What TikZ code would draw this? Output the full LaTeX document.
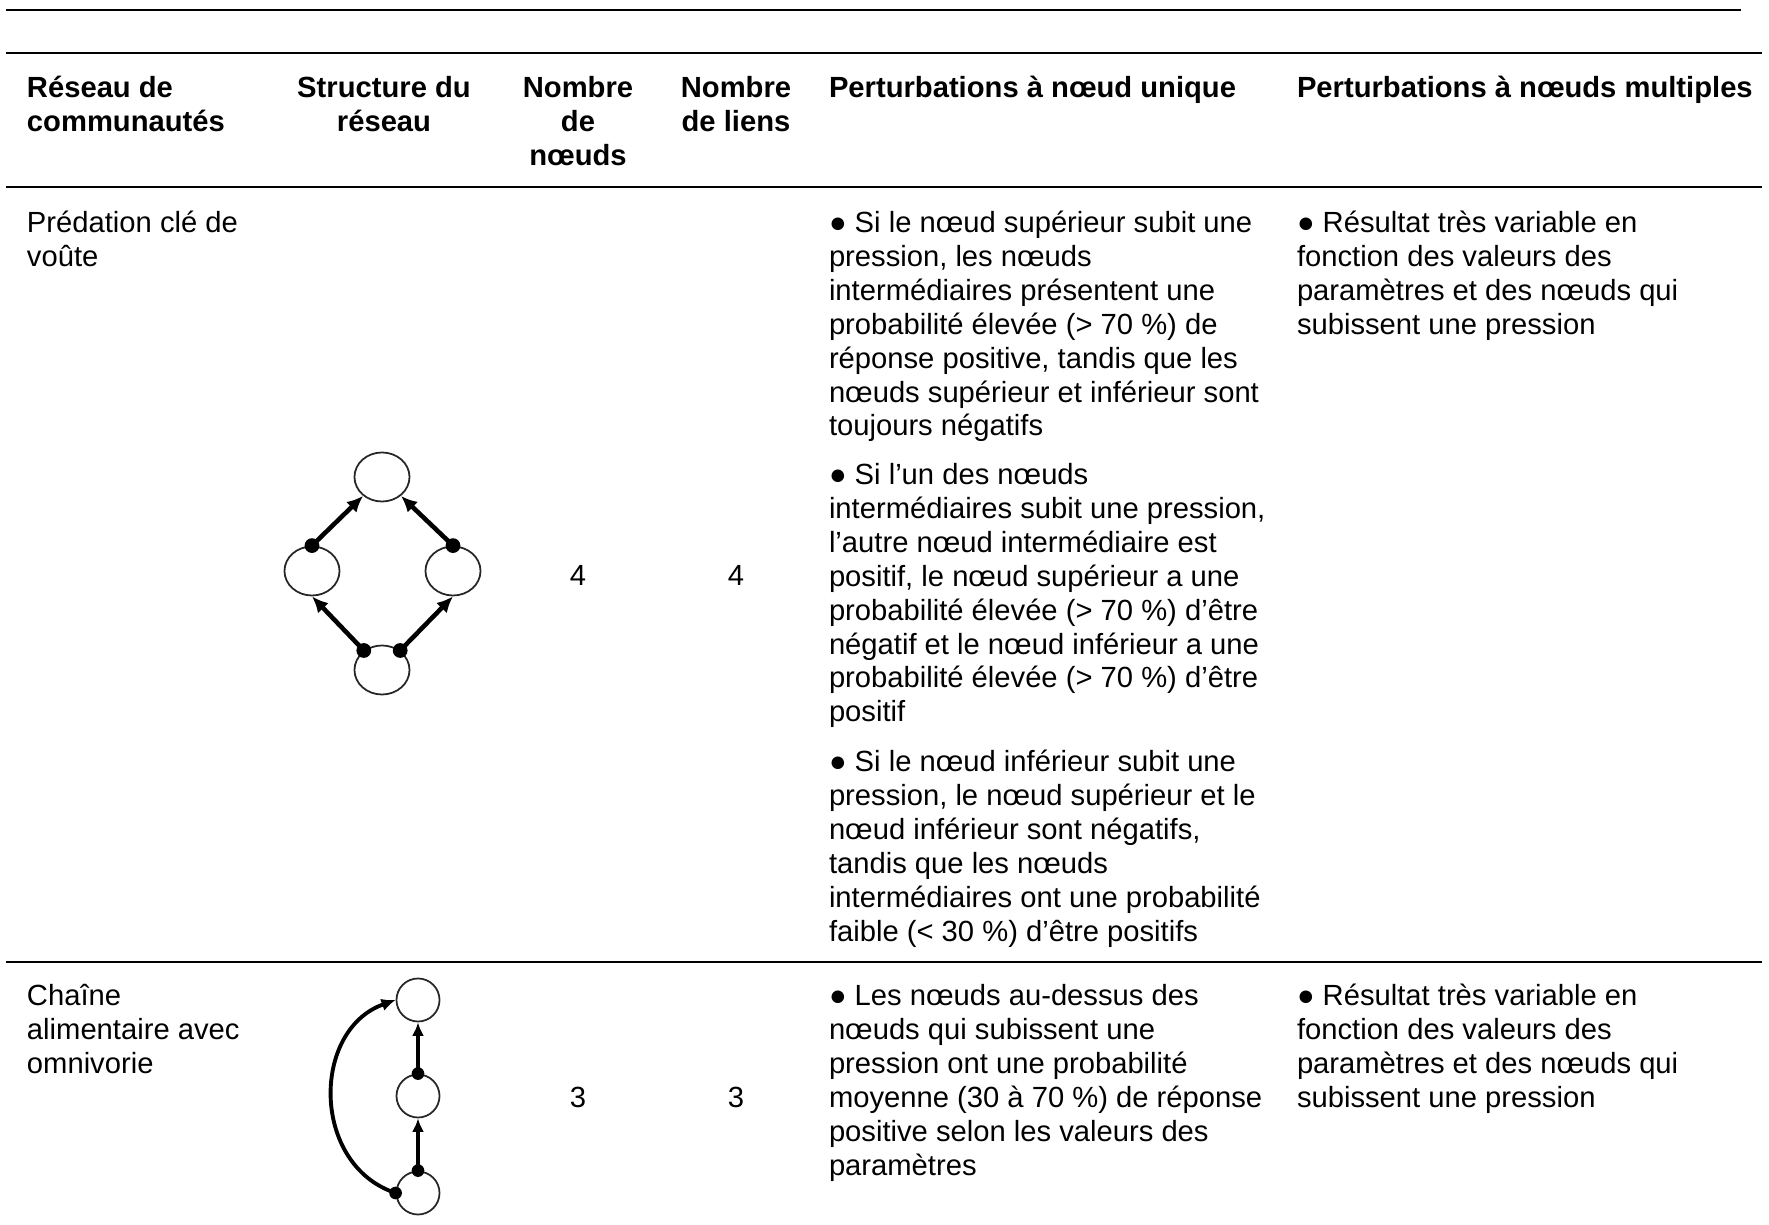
\documentclass[tikz,border=0pt]{standalone}
\usepackage{fontspec}
\setmainfont{Liberation Sans}
\usetikzlibrary{shapes.geometric,arrows.meta}
\newcommand{\cellL}[1]{\parbox[t]{7cm}{\raggedright #1}}
\newcommand{\cellC}[1]{\parbox[t]{3cm}{\centering #1}}
\begin{document}
\begin{tikzpicture}[x=0.01cm,y=-0.01cm,
  txt/.style={inner sep=0pt, outer sep=0pt, anchor=base west, font=\fontsize{8.3pt}{9.62pt}\selectfont},
  hd/.style={txt, font=\fontsize{8.3pt}{9.62pt}\selectfont\bfseries},
  hdc/.style={hd, anchor=base},
  num/.style={txt, anchor=base},
  rule/.style={line width=0.7pt},
  nd/.style={ellipse, draw=black!85, line width=0.5pt, inner sep=0pt, minimum width=0.55cm, minimum height=0.49cm},
  cn/.style={circle, draw=black!85, line width=0.5pt, inner sep=0pt, minimum size=0.43cm},
  lk/.style={line width=1.3pt, -{Latex[length=4.6pt,width=4.2pt]}},
  lkt/.style={line width=0.9pt, -{Latex[length=3.8pt,width=3.4pt]}},
  lkc/.style={line width=1.1pt, -{Latex[length=4pt,width=3.6pt]}},
  dotc/.style={fill=black}
]
\useasboundingbox (0,0) rectangle (1769,1225);

% rules
\draw[rule] (6,10) -- (1741,10);
\draw[rule] (6,53) -- (1762,53);
\draw[rule] (6,187) -- (1762,187);
\draw[rule] (6,962) -- (1762,962);

% header
\node[hd] (h1) at (27,98) {\cellL{Réseau de\\communautés}};
\node[hdc] (h2) at (384,98) {\cellC{Structure du\\réseau}};
\node[hdc] (h3) at (578,98) {\cellC{Nombre\\de\\nœuds}};
\node[hdc] (h4) at (736,98) {\cellC{Nombre\\de liens}};
\node[hd] (h5) at (829,98) {\cellL{Perturbations à nœud unique}};
\node[hd] (h6) at (1297,98) {\cellL{Perturbations à nœuds multiples}};

% row 1
\node[txt] (r1c1) at (27,233) {\cellL{Prédation clé de\\voûte}};
\node[num] (r1c3) at (578,586) {4};
\node[num] (r1c4) at (736,586) {4};
\node[txt] (r1p1) at (829,233) {\cellL{● Si le nœud supérieur subit une\\
pression, les nœuds\\
intermédiaires présentent une\\
probabilité élevée (> 70 \%) de\\
réponse positive, tandis que les\\
nœuds supérieur et inférieur sont\\
toujours négatifs}};
\node[txt] (r1p2) at (829,485) {\cellL{● Si l’un des nœuds\\
intermédiaires subit une pression,\\
l’autre nœud intermédiaire est\\
positif, le nœud supérieur a une\\
probabilité élevée (> 70 \%) d’être\\
négatif et le nœud inférieur a une\\
probabilité élevée (> 70 \%) d’être\\
positif}};
\node[txt] (r1p3) at (829,772) {\cellL{● Si le nœud inférieur subit une\\
pression, le nœud supérieur et le\\
nœud inférieur sont négatifs,\\
tandis que les nœuds\\
intermédiaires ont une probabilité\\
faible (< 30 \%) d’être positifs}};
\node[txt] (r1c6) at (1297,233) {\cellL{● Résultat très variable en\\
fonction des valeurs des\\
paramètres et des nœuds qui\\
subissent une pression}};

% row 2
\node[txt] (r2c1) at (27,1006) {\cellL{Chaîne\\alimentaire avec\\omnivorie}};
\node[num] (r2c3) at (578,1107) {3};
\node[num] (r2c4) at (736,1107) {3};
\node[txt] (r2c5) at (829,1006) {\cellL{● Les nœuds au-dessus des\\
nœuds qui subissent une\\
pression ont une probabilité\\
moyenne (30 à 70 \%) de réponse\\
positive selon les valeurs des\\
paramètres}};
\node[txt] (r2c6) at (1297,1006) {\cellL{● Résultat très variable en\\
fonction des valeurs des\\
paramètres et des nœuds qui\\
subissent une pression}};

% diagram 1: keystone predation
\node[nd] (kt) at (382,477) {};
\node[nd] (kl) at (312,571) {};
\node[nd] (kr) at (453,571) {};
\node[nd] (kb) at (382,670) {};
\draw[lk] (kl.north) -- (kt.225);
\draw[lk] (kr.north) -- (kt.315);
\draw[lk] (kb.133) -- (kl.south);
\draw[lk] (kb.47) -- (kr.south);
\fill[dotc] (kl.north) circle (2.1pt);
\fill[dotc] (kr.north) circle (2.1pt);
\fill[dotc] (kb.133) circle (2.1pt);
\fill[dotc] (kb.47) circle (2.1pt);

% diagram 2: food chain with omnivory
\node[cn] (ct) at (418,1000) {};
\node[cn] (cm) at (418,1096) {};
\node[cn] (cb) at (418,1193) {};
\draw[lkt] (cm.north) -- (ct.south);
\draw[lkt] (cb.north) -- (cm.south);
\draw[lkc] (cb.west) .. controls (311,1165) and (311,1030) .. (ct.west);
\fill[dotc] (cm.north) circle (1.8pt);
\fill[dotc] (cb.north) circle (1.8pt);
\fill[dotc] (cb.west) circle (1.8pt);
\end{tikzpicture}
\end{document}
